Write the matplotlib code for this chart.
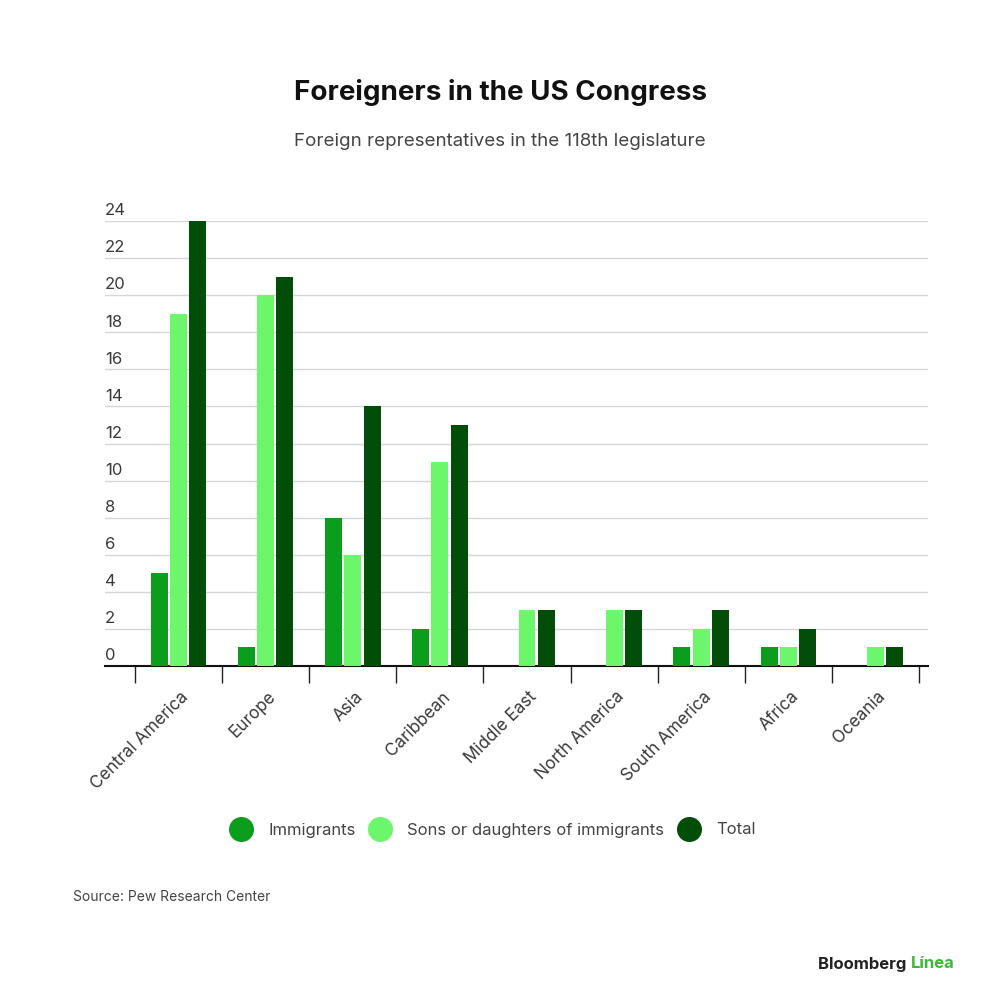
import numpy as np
import matplotlib
matplotlib.use("Agg")
import matplotlib.pyplot as plt
from matplotlib.lines import Line2D
import matplotlib.transforms as mtransforms

plt.rcParams["font.family"] = ["Inter", "DejaVu Sans"]

# datos
regions = ["Central America", "Europe", "Asia", "Caribbean", "Middle East",
           "North America", "South America", "Africa", "Oceania"]
immigrants = [5, 1, 8, 2, 0, 0, 1, 1, 0]
sons_daughters = [19, 20, 6, 11, 3, 3, 2, 1, 1]
total = [24, 21, 14, 13, 3, 3, 3, 2, 1]
series_names = ["Immigrants", "Sons or daughters of immigrants", "Total"]
y_ticks = [0, 2, 4, 6, 8, 10, 12, 14, 16, 18, 20, 22, 24]

colors = ["#0a9e1c", "#6cf66c", "#024d08"]
txt_color = "#3a3a3a"

fig = plt.figure(figsize=(10, 10.07), dpi=100)
ax = fig.add_axes([0.105, 0.3386, 0.823, 0.4419])

x = np.arange(len(regions))
bw = 0.195
step = 0.222
for i, (vals, c) in enumerate(zip([immigrants, sons_daughters, total], colors)):
    ax.bar(x + (i - 1) * step, vals, width=bw, color=c, zorder=3)

ax.set_xlim(-0.844, 8.603)
ax.set_ylim(0, 24)

# grid + etiquetas y encima de la línea
for v in y_ticks[1:]:
    ax.axhline(v, color="#d6d6d6", lw=1, zorder=1)
trans = mtransforms.blended_transform_factory(ax.transAxes, ax.transData)
for v in y_ticks:
    ax.text(0, v + 0.15, str(v), transform=trans, ha="left", va="bottom",
            fontsize=12, color=txt_color, clip_on=False)

for s in ["top", "right", "left"]:
    ax.spines[s].set_visible(False)
ax.spines["bottom"].set_linewidth(1.5)
ax.spines["bottom"].set_color("#111111")
ax.set_yticks([])

ax.set_xticks(np.arange(-0.5, len(regions), 1.0), minor=False)
ax.set_xticklabels([])
ax.tick_params(axis="x", length=12, width=1, color="#222222", direction="out")
for xi, name in zip(x, regions):
    ax.text(xi + 0.02, -1.2, name, rotation=45, ha="right", va="top",
            rotation_mode="anchor", fontsize=12.3, color=txt_color,
            transform=ax.transData, clip_on=False)

fig.text(0.5, 1 - 93 / 1007, "Foreigners in the US Congress", ha="center",
         va="center", fontsize=20, fontweight="bold", color="#111111")
fig.text(0.5, 1 - 142 / 1007, "Foreign representatives in the 118th legislature",
         ha="center", va="center", fontsize=13.5, color="#444444")

handles = [Line2D([], [], marker="o", ls="", markersize=17, color=c) for c in colors]
fig.legend(handles, series_names, loc="center", bbox_to_anchor=(0.49, 1 - 830 / 1007),
           ncol=3, frameon=False, fontsize=12, handletextpad=0.6,
           columnspacing=0.5, labelcolor="#444444")

fig.text(0.073, 1 - 897 / 1007, "Source: Pew Research Center", ha="left",
         va="center", fontsize=10, color="#444444")
t1 = fig.text(0.818, 1 - 964 / 1007, "Bloomberg ", ha="left", va="center",
              fontsize=12, fontweight="bold", color="#222222")
fig.canvas.draw()
bb = t1.get_window_extent()
fig.text(bb.x1 / fig.bbox.width, 1 - 964 / 1007, "Línea", ha="left", va="center",
         fontsize=12, fontweight="bold", color="#3cb83c")

fig.savefig("out.png", dpi=100, facecolor="white")
